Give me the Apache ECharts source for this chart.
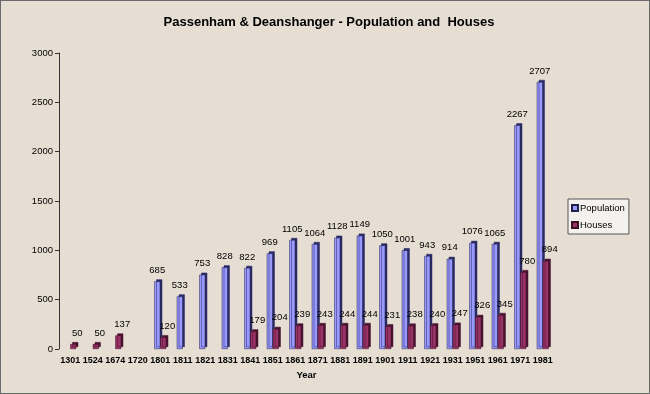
<!DOCTYPE html>
<html><head><meta charset="utf-8">
<script src="https://cdn.jsdelivr.net/npm/echarts@6/dist/echarts.min.js"></script>
<style>
html,body{margin:0;padding:0;background:#e5ddd1;}
#c{width:648px;height:392px;border:1px solid #6a6a6a;background:#e6ded2;}
</style></head><body>
<div id="c"></div>
<script>
var categories = ['1301','1524','1674','1720','1801','1811','1821','1831','1841','1851','1861','1871','1881','1891','1901','1911','1921','1931','1951','1961','1971','1981'];
var population = [null,null,null,null,685,533,753,828,822,969,1105,1064,1128,1149,1050,1001,943,914,1076,1065,2267,2707];
var houses = [50,50,137,null,120,null,null,null,179,204,239,243,244,244,231,238,240,247,326,345,780,894];
var yTicks = [0,500,1000,1500,2000,2500,3000];

var chart = echarts.init(document.getElementById('c'));
var font = 'Arial, "Liberation Sans", sans-serif';
chart.setOption({
  animation:false,
  textStyle:{fontFamily:font},
  title:{text:'Passenham & Deanshanger - Population and  Houses',left:323,textAlign:'center',top:10,
    textStyle:{fontSize:13,fontWeight:'bold',color:'#000',fontFamily:font}},
  legend:{orient:'vertical',left:567,top:198,itemWidth:6,itemHeight:6,itemGap:7,
    backgroundColor:'#f4f2ee',borderColor:'#555',borderWidth:1,padding:[4,4,4,3],
    textStyle:{fontSize:9.5,color:'#000',fontFamily:font,padding:[0,0,0,-3]},
    data:[{name:'Population',icon:'rect'},{name:'Houses',icon:'rect'}]},
  grid:{left:58,right:95,top:52,bottom:44},
  xAxis:{type:'category',data:categories,name:'Year',nameLocation:'middle',nameGap:20,
    nameTextStyle:{fontSize:9.5,fontWeight:'bold',color:'#000'},
    axisLine:{show:false},axisTick:{show:false},
    axisLabel:{fontSize:9,fontWeight:'bold',color:'#000',margin:7,interval:0}},
  yAxis:{type:'value',min:0,max:3000,interval:500,
    axisLine:{show:true,lineStyle:{color:'#333'}},
    axisTick:{show:true,length:4,lineStyle:{color:'#333'}},
    splitLine:{show:false},
    axisLabel:{fontSize:9.5,color:'#000',margin:6,
      formatter:function(v){return yTicks.indexOf(v)>=0?String(v):'';}}},
  series:[
    {name:'Population',type:'bar',data:population,barWidth:6,barGap:'0%',
     itemStyle:{color:'#9999ff',borderColor:'#22224a',borderWidth:0.5,
       shadowColor:'#2a2a66',shadowOffsetX:2,shadowOffsetY:-2,shadowBlur:0},
     label:{show:true,position:'top',offset:[0,-1],fontSize:9.5,color:'#000'}},
    {name:'Houses',type:'bar',data:houses,barWidth:6,
     itemStyle:{color:'#993366',borderColor:'#3a0f22',borderWidth:0.5,
       shadowColor:'#4a1330',shadowOffsetX:2,shadowOffsetY:-2,shadowBlur:0},
     label:{show:true,position:'top',offset:[4,-1],fontSize:9.5,color:'#000'}}
  ]
});
</script></body></html>
